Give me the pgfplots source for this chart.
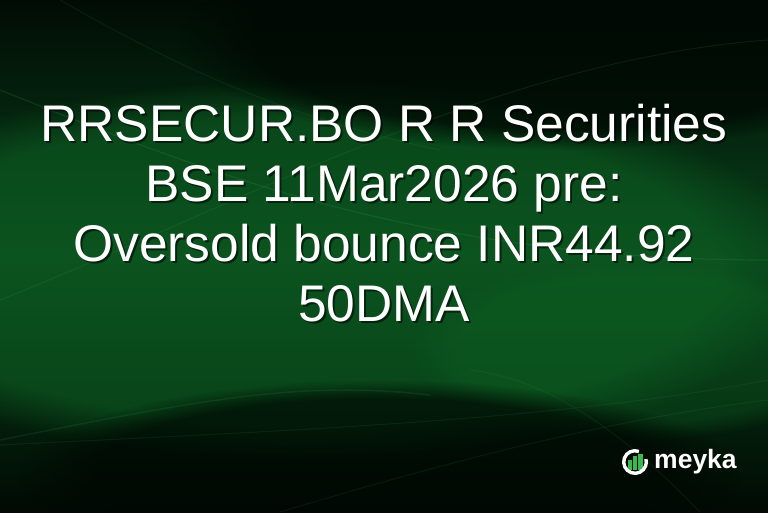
\documentclass[border=0pt]{standalone}
\usepackage{pgfplots}
\pgfplotsset{compat=1.18}
\usetikzlibrary{fadings}
\usepackage{fontspec}
\setmainfont{Liberation Sans}
\definecolor{bgtop}{HTML}{010C04}
\definecolor{bgmid}{HTML}{08401A}
\definecolor{bgbot}{HTML}{010A03}
\definecolor{glow}{HTML}{0E6424}
\definecolor{dark}{HTML}{000803}
\definecolor{streak}{HTML}{3FAF5A}
\definecolor{logogreen}{HTML}{3DB84E}

\begin{document}
\begin{tikzpicture}
\begin{axis}[
    scale only axis,
    width=768pt, height=512pt,
    xmin=0, xmax=768, ymin=0, ymax=512,
    y dir=reverse,
    hide axis,
    clip=true,
]
    % background
    \fill[top color=bgtop, bottom color=bgbot, middle color=bgmid]
        (axis cs:0,0) rectangle (axis cs:768,512);
    \fill[glow, opacity=0.55, path fading=circle with fuzzy edge 20 percent]
        (axis cs:300,270) ellipse [x radius=520pt, y radius=190pt];
    \fill[glow, opacity=0.35, path fading=circle with fuzzy edge 20 percent]
        (axis cs:640,350) ellipse [x radius=230pt, y radius=90pt];
    \fill[dark, opacity=0.75, path fading=circle with fuzzy edge 20 percent]
        (axis cs:560,40) ellipse [x radius=380pt, y radius=110pt];
    \fill[dark, opacity=0.7, path fading=circle with fuzzy edge 20 percent]
        (axis cs:380,475) ellipse [x radius=360pt, y radius=95pt];
    % faint streaks
    \draw[streak, opacity=0.16, line width=1.2pt]
        (axis cs:0,90) .. controls (axis cs:200,170) and (axis cs:420,260) .. (axis cs:768,260);
    \draw[streak, opacity=0.13, line width=1pt]
        (axis cs:0,300) .. controls (axis cs:250,200) and (axis cs:500,60) .. (axis cs:768,40);
    \draw[streak, opacity=0.10, line width=1pt]
        (axis cs:60,0) .. controls (axis cs:200,80) and (axis cs:300,120) .. (axis cs:440,150);
    \draw[streak, opacity=0.12, line width=1.5pt]
        (axis cs:0,440) .. controls (axis cs:200,400) and (axis cs:300,380) .. (axis cs:430,395);
    \draw[streak, opacity=0.10, line width=1pt]
        (axis cs:0,445) .. controls (axis cs:300,430) and (axis cs:560,420) .. (axis cs:768,380);
    \draw[streak, opacity=0.10, line width=1pt]
        (axis cs:280,512) .. controls (axis cs:420,470) and (axis cs:600,420) .. (axis cs:768,400);
    \draw[streak, opacity=0.10, line width=1pt]
        (axis cs:470,370) .. controls (axis cs:560,380) and (axis cs:640,450) .. (axis cs:700,512);
    % title with shadow
    \node[inner sep=0pt, align=center, text=black, opacity=0.55,
          font=\fontsize{51.5}{60.2}\selectfont]
        at (axis cs:386,215) {RRSECUR.BO R R Securities\\BSE 11Mar2026 pre:\\Oversold bounce INR44.92\\50DMA};
    \node[inner sep=0pt, align=center, text=white,
          font=\fontsize{51.5}{60.2}\selectfont]
        at (axis cs:384,213) {RRSECUR.BO R R Securities\\BSE 11Mar2026 pre:\\Oversold bounce INR44.92\\50DMA};
    % logo
    \fill[logogreen] (axis cs:628,469.5) rectangle (axis cs:632,460);
    \fill[logogreen] (axis cs:633,469.5) rectangle (axis cs:637,456);
    \fill[logogreen] (axis cs:638,469.5) rectangle (axis cs:642.5,454);
    \draw[white, line width=3.4pt] (axis cs:635,462) ++(70:11.3pt) arc[start angle=70, end angle=375, radius=11.3pt];
    \node[anchor=base west, inner sep=0pt, text=white, font=\fontsize{26.5}{26.5}\bfseries\selectfont]
        at (axis cs:654,468) {meyka};
\end{axis}
\end{tikzpicture}
\end{document}
